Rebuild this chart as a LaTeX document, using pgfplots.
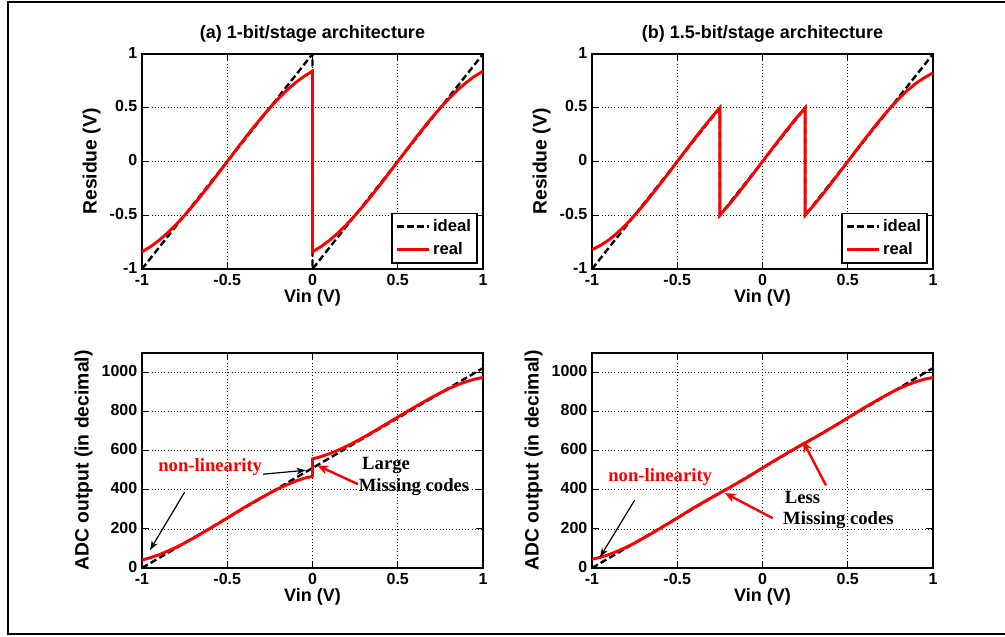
\documentclass[border=0pt]{standalone}
\usepackage{pgfplots}
\pgfplotsset{compat=1.18}
\usepackage{fontspec}
\setmainfont{Liberation Sans}
\newfontfamily\timesf{Liberation Serif}
\usetikzlibrary{arrows.meta}
\pgfplotsset{
  myax/.style={
    scale only axis, width=255.75pt, height=161.25pt,
    anchor=south west,
    xmin=-1, xmax=1,
    xtick={-1,-0.5,0,0.5,1},
    xticklabels={-1,-0.5,0,0.5,1},
    grid=major,
    major grid style={dotted, black, line width=0.6pt},
    axis line style={line width=1.3pt},
    every tick/.style={black, line width=0.8pt},
    major tick length=5pt,
    tick align=inside,
    tick label style={font=\bfseries\fontsize{12}{14}\selectfont},
    xticklabel style={yshift=-0.5pt},
    yticklabel style={yshift=1pt},
    xlabel style={font=\bfseries\fontsize{13.5}{15}\selectfont, yshift=4pt},
    ylabel style={font=\bfseries\fontsize{14.5}{16}\selectfont},
    title style={font=\bfseries\fontsize{13.5}{15}\selectfont, yshift=-1pt},
    xlabel={Vin (V)},
  },
  topax/.style={myax,
    ymin=-1, ymax=1,
    ytick={-1,-0.5,0,0.5,1},
    yticklabels={-1,-0.5,0,0.5,1},
    ylabel={Residue (V)},
    legend style={at={(1,0)}, anchor=south east, xshift=-4pt, yshift=4pt,
      draw=black, line width=1pt, font=\bfseries\fontsize{12.5}{14}\selectfont,
      row sep=3pt, inner sep=2.5pt},
    legend cell align=left,
    legend image code/.code={\draw[##1] (0pt,0pt) -- (24pt,0pt);},
  },
  botax/.style={myax,
    ymin=0, ymax=1100,
    ytick={0,200,400,600,800,1000},
    yticklabels={0,200,400,600,800,1000},
    ylabel={ADC output (in decimal)},
  },
  ideal/.style={black, line width=1.8pt, dash pattern=on 5pt off 2.5pt},
  real/.style={red, line width=2.2pt},
}
\begin{document}
\begin{tikzpicture}
\path[use as bounding box] (0pt,0pt) rectangle (753.75pt,477pt);
\draw[line width=1.5pt] (760pt,475.8pt) -- (6pt,475.8pt) -- (6pt,1.2pt) -- (760pt,1.2pt);

% (a) top
\begin{axis}[topax, at={(106.5pt,275.25pt)}, title={(a) 1-bit/stage architecture}]
\addplot[ideal] coordinates {(-1,-1)(0,1)(0,-1)(1,1)};
\addlegendentry{ideal}
\addplot[real] coordinates {(-1,-0.840)(-0.95,-0.792)(-0.9,-0.733)(-0.85,-0.664)(-0.8,-0.586)(-0.75,-0.500)(-0.7,-0.408)(-0.65,-0.310)(-0.6,-0.209)(-0.55,-0.105)(-0.5,0)(-0.45,0.105)(-0.4,0.209)(-0.35,0.310)(-0.3,0.408)(-0.25,0.500)(-0.2,0.586)(-0.15,0.664)(-0.1,0.733)(-0.05,0.792)(0,0.840)(0,-0.840)(0.05,-0.792)(0.1,-0.733)(0.15,-0.664)(0.2,-0.586)(0.25,-0.500)(0.3,-0.408)(0.35,-0.310)(0.4,-0.209)(0.45,-0.105)(0.5,0)(0.55,0.105)(0.6,0.209)(0.65,0.310)(0.7,0.408)(0.75,0.500)(0.8,0.586)(0.85,0.664)(0.9,0.733)(0.95,0.792)(1,0.840)};
\addlegendentry{real}
\end{axis}

% (b) top
\begin{axis}[topax, at={(444pt,275.25pt)}, title={(b) 1.5-bit/stage architecture}]
\addplot[ideal] coordinates {(-1,-1)(-0.25,0.5)(-0.25,-0.5)(0.25,0.5)(0.25,-0.5)(1,1)};
\addlegendentry{ideal}
\addplot[real] coordinates {(-1,-0.820)(-0.95,-0.780)(-0.9,-0.728)(-0.85,-0.662)(-0.8,-0.586)(-0.75,-0.500)(-0.7,-0.408)(-0.65,-0.310)(-0.6,-0.209)(-0.55,-0.105)(-0.5,0)(-0.45,0.105)(-0.4,0.209)(-0.35,0.310)(-0.3,0.408)(-0.25,0.500)(-0.25,-0.500)(-0.2,-0.408)(-0.15,-0.310)(-0.1,-0.209)(-0.05,-0.105)(0,0)(0.05,0.105)(0.1,0.209)(0.15,0.310)(0.2,0.408)(0.25,0.500)(0.25,-0.500)(0.3,-0.408)(0.35,-0.310)(0.4,-0.209)(0.45,-0.105)(0.5,0)(0.55,0.105)(0.6,0.209)(0.65,0.310)(0.7,0.408)(0.75,0.500)(0.8,0.586)(0.85,0.662)(0.9,0.728)(0.95,0.780)(1,0.825)};
\addlegendentry{real}
\end{axis}

% (a) bottom
\begin{axis}[botax, at={(106.5pt,51pt)}]
\addplot[ideal] coordinates {(-1,0)(1,1023)};
\addplot[real] coordinates {(-1,41)(-0.95,53)(-0.9,68)(-0.85,86)(-0.8,106)(-0.75,128)(-0.7,152)(-0.65,177)(-0.6,203)(-0.55,229)(-0.5,256)(-0.45,283)(-0.4,310)(-0.35,335)(-0.3,360)(-0.25,384)(-0.2,406)(-0.15,426)(-0.1,444)(-0.05,459)(0,469)(0,558)(0.05,570)(0.1,585)(0.15,603)(0.2,623)(0.25,645)(0.3,669)(0.35,694)(0.4,720)(0.45,746)(0.5,772)(0.55,798)(0.6,824)(0.65,849)(0.7,873)(0.75,896)(0.8,918)(0.85,937)(0.9,953)(0.95,966)(1,975)};
\node[text=red, font=\timesf\bfseries\fontsize{14}{16}\selectfont] at (axis cs:-0.60,515) {non-linearity};
\draw[black, line width=0.9pt, -{Stealth[length=7pt,width=5pt]}] (axis cs:-0.29,480) -- (axis cs:-0.04,500);
\draw[black, line width=0.9pt, -{Stealth[length=7pt,width=5pt]}] (axis cs:-0.75,388) -- (axis cs:-0.953,92);
\draw[red, line width=1.8pt, -{Stealth[length=8pt,width=7pt,open]}] (axis cs:0.267,429) -- (axis cs:0.03,524);
\node[anchor=west, font=\timesf\bfseries\fontsize{14}{16}\selectfont, inner sep=0pt] at (axis cs:0.29,526) {Large};
\node[anchor=west, font=\timesf\bfseries\fontsize{14}{16}\selectfont, inner sep=0pt] at (axis cs:0.27,413) {Missing codes};
\end{axis}

% (b) bottom
\begin{axis}[botax, at={(444pt,51pt)}]
\addplot[ideal] coordinates {(-1,0)(1,1023)};
\addplot[real] coordinates {(-1,45)(-0.95,55)(-0.9,69)(-0.85,86)(-0.8,106)(-0.75,128)(-0.7,152)(-0.65,177)(-0.6,203)(-0.55,229)(-0.5,256)(-0.45,283)(-0.4,310)(-0.35,335)(-0.3,360)(-0.25,384)(-0.2,408)(-0.15,433)(-0.1,458)(-0.05,485)(0,512)(0.05,539)(0.1,565)(0.15,591)(0.2,616)(0.25,640)(0.3,664)(0.35,689)(0.4,715)(0.45,741)(0.5,768)(0.55,795)(0.6,822)(0.65,847)(0.7,872)(0.75,896)(0.8,918)(0.85,937)(0.9,953)(0.95,966)(1,975)};
\node[text=red, font=\timesf\bfseries\fontsize{14}{16}\selectfont] at (axis cs:-0.60,464) {non-linearity};
\draw[black, line width=0.9pt, -{Stealth[length=7pt,width=5pt]}] (axis cs:-0.75,347) -- (axis cs:-0.953,56);
\draw[red, line width=1.8pt, -{Stealth[length=8pt,width=7pt,open]}] (axis cs:0.06,255) -- (axis cs:-0.22,383);
\draw[red, line width=1.8pt, -{Stealth[length=8pt,width=7pt,open]}] (axis cs:0.372,423) -- (axis cs:0.238,648);
\node[anchor=west, font=\timesf\bfseries\fontsize{14}{16}\selectfont, inner sep=0pt] at (axis cs:0.13,362) {Less};
\node[anchor=west, font=\timesf\bfseries\fontsize{14}{16}\selectfont, inner sep=0pt] at (axis cs:0.12,245) {Missing codes};
\end{axis}
\end{tikzpicture}
\end{document}
